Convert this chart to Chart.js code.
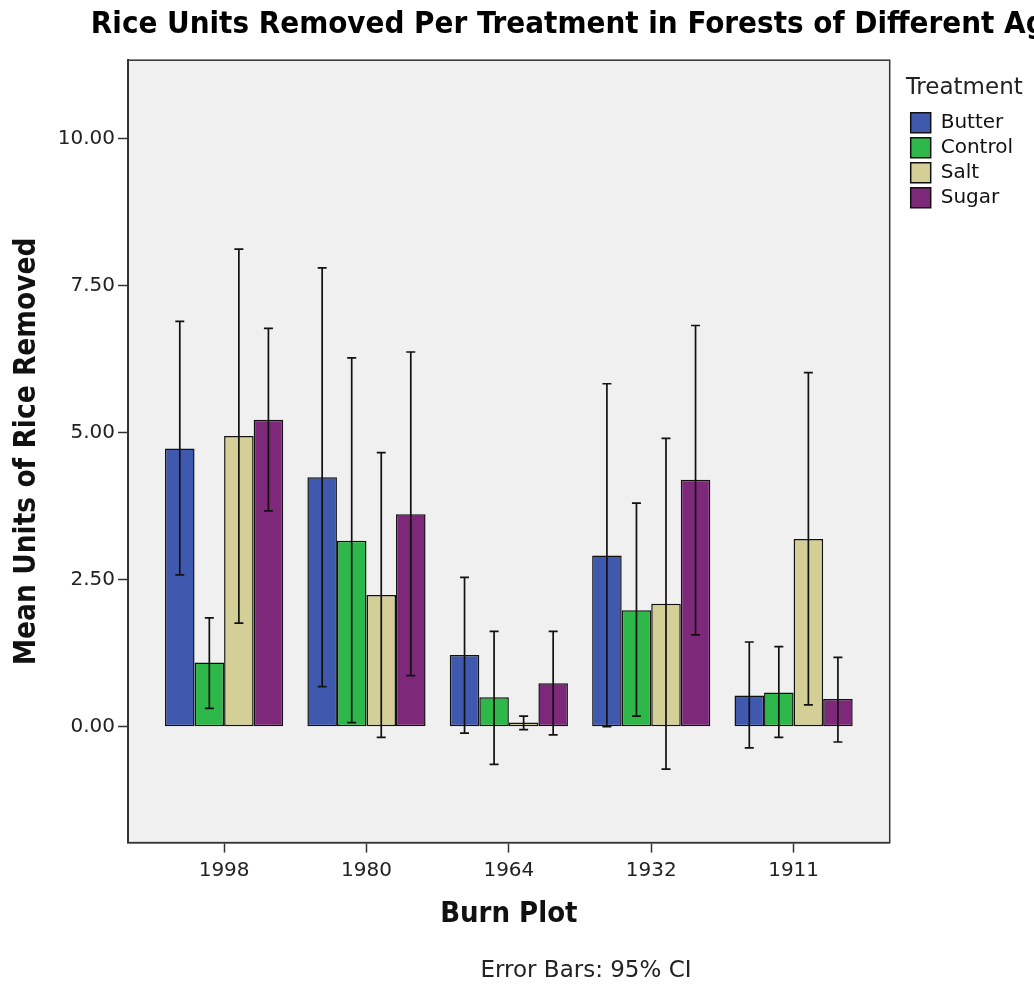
<!DOCTYPE html>
<html>
<head>
<meta charset="utf-8">
<script src="https://cdn.jsdelivr.net/npm/chart.js@4/dist/chart.umd.min.js"></script>
<style>
  body { margin: 0; overflow: hidden; background: #fff; }
  #wrap { width: 1172px; height: 987px; }
</style>
</head>
<body>
<div id="wrap"><canvas id="rice" width="1172" height="987"></canvas></div>
<script>
// =====================
// Data
// =====================
var burnPlots = ['1998', '1980', '1964', '1932', '1911'];
var treatments = ['Butter', 'Control', 'Salt', 'Sugar'];
var yTicks = [0, 2.5, 5, 7.5, 10];

var butterMean = [4.73, 4.24, 1.22, 2.91, 0.53];
var butterLow  = [2.58, 0.68, -0.11, 0.00, -0.36];
var butterHigh = [6.89, 7.80, 2.54, 5.83, 1.44];

var controlMean = [1.09, 3.16, 0.50, 1.98, 0.58];
var controlLow  = [0.31, 0.07, -0.64, 0.18, -0.18];
var controlHigh = [1.85, 6.27, 1.62, 3.80, 1.36];

var saltMean = [4.94, 2.24, 0.07, 2.09, 3.19];
var saltLow  = [1.76, -0.18, -0.05, -0.72, 0.37];
var saltHigh = [8.12, 4.66, 0.18, 4.90, 6.02];

var sugarMean = [5.22, 3.61, 0.74, 4.20, 0.47];
var sugarLow  = [3.67, 0.87, -0.14, 1.56, -0.26];
var sugarHigh = [6.77, 6.37, 1.62, 6.82, 1.18];

var means = [butterMean, controlMean, saltMean, sugarMean];
var lows = [butterLow, controlLow, saltLow, sugarLow];
var highs = [butterHigh, controlHigh, saltHigh, sugarHigh];
var colors = [
  '#3f59ae', // blue
  '#2eb84a', // green
  '#d4cf97', // tan
  '#7d2879'  // purple
];

var FONT = 'DejaVu Sans';
var FONT_C = 'DejaVu Sans Condensed';

// gray plot background + frame
var plotFrame = {
  id: 'plotFrame',
  beforeDraw: function (chart) {
    var a = chart.chartArea, ctx = chart.ctx;
    ctx.save();
    ctx.fillStyle = '#f0f0f0';
    ctx.fillRect(a.left, a.top, a.right - a.left, a.bottom - a.top);
    ctx.restore();
  },
  afterDraw: function (chart) {
    var a = chart.chartArea, ctx = chart.ctx;
    ctx.save();
    ctx.strokeStyle = '#333';
    ctx.lineWidth = 1.5;
    ctx.strokeRect(a.left, a.top, a.right - a.left, a.bottom - a.top);
    ctx.restore();
  }
};

// 95% CI whiskers
var errorBars = {
  id: 'errorBars',
  afterDatasetsDraw: function (chart) {
    var ctx = chart.ctx, y = chart.scales.y;
    ctx.save();
    ctx.strokeStyle = '#111';
    ctx.lineWidth = 1.7;
    chart.data.datasets.forEach(function (ds, i) {
      chart.getDatasetMeta(i).data.forEach(function (bar, j) {
        var top = y.getPixelForValue(highs[i][j]);
        var bot = y.getPixelForValue(lows[i][j]);
        ctx.beginPath();
        ctx.moveTo(bar.x, top); ctx.lineTo(bar.x, bot);
        ctx.moveTo(bar.x - 4.5, top); ctx.lineTo(bar.x + 4.5, top);
        ctx.moveTo(bar.x - 4.5, bot); ctx.lineTo(bar.x + 4.5, bot);
        ctx.stroke();
      });
    });
    ctx.restore();
  }
};

// invisible spacer axis on the right side
function spacer(w, weight) {
  return {
    type: 'linear',
    position: 'right',
    weight: weight,
    grid: { display: false },
    ticks: { display: false },
    border: { display: false },
    afterFit: function (s) { s.width = w; }
  };
}

var ctxRice = document.getElementById('rice').getContext('2d');

var riceChart = new Chart(ctxRice, {
  type: 'bar',
  data: {
    datasets: treatments.map(function (t, i) {
      return {
        label: t,
        data: means[i].map(function (v, j) { return { x: j + 1, y: v }; }),
        backgroundColor: colors[i],
        borderColor: '#111',
        borderWidth: 1.5,
        borderSkipped: false,
        categoryPercentage: 0.83,
        barPercentage: 1.0
      };
    })
  },
  options: {
    responsive: false,
    animation: false,
    layout: { padding: 0 },
    plugins: {
      tooltip: { enabled: false },
      title: {
        display: true,
        text: 'Rice Units Removed Per Treatment in Forests of Different Ages',
        color: '#000',
        font: { family: FONT_C, size: 31, weight: 'bold' },
        padding: { top: 6, bottom: 17 }
      },
      subtitle: {
        display: true,
        position: 'bottom',
        text: 'Error Bars: 95% CI',
        color: '#222',
        font: { family: FONT, size: 23 },
        padding: { top: 26, bottom: 2 }
      },
      legend: {
        position: 'right',
        align: 'start',
        fullSize: false,
        title: {
          display: true,
          text: 'Treatment',
          position: 'start',
          color: '#222',
          font: { family: FONT, size: 23 },
          padding: { top: 16, bottom: 4 }
        },
        labels: {
          color: '#111',
          boxWidth: 20,
          boxHeight: 20,
          padding: 5,
          font: { family: FONT, size: 20 }
        }
      }
    },
    scales: {
      x: {
        type: 'linear',
        offset: false,
        min: 0.325,
        max: 5.675,
        afterBuildTicks: function (s) {
          s.ticks = burnPlots.map(function (_, i) { return { value: i + 1 }; });
        },
        ticks: {
          color: '#222',
          font: { family: FONT, size: 20 },
          padding: 6,
          callback: function (v) { return burnPlots[v - 1]; }
        },
        grid: { drawOnChartArea: false, offset: false, tickLength: 10, color: '#333', tickWidth: 1.5 },
        border: { color: '#333', width: 1.5 },
        title: {
          display: true,
          text: 'Burn Plot',
          color: '#111',
          font: { family: FONT_C, size: 29, weight: 'bold' },
          padding: { top: 8, bottom: 0 }
        }
      },
      y: {
        min: -1.97,
        max: 11.33,
        afterBuildTicks: function (s) {
          s.ticks = yTicks.map(function (v) { return { value: v }; });
        },
        afterFit: function (s) { s.width = 128; },
        ticks: {
          color: '#222',
          font: { family: FONT, size: 20 },
          padding: 3,
          callback: function (v) { return v.toFixed(2); }
        },
        grid: { drawOnChartArea: false, tickLength: 10, color: '#333', tickWidth: 1.5 },
        border: { color: '#333', width: 2 },
        title: {
          display: true,
          text: 'Mean Units of Rice Removed',
          color: '#111',
          font: { family: FONT_C, size: 29.5, weight: 'bold' },
          padding: { top: 10, bottom: 0 }
        }
      },
      gapRight: spacer(16, 1),
      padRight: spacer(149, 1001)
    }
  },
  plugins: [plotFrame, errorBars]
});
</script>
</body>
</html>
